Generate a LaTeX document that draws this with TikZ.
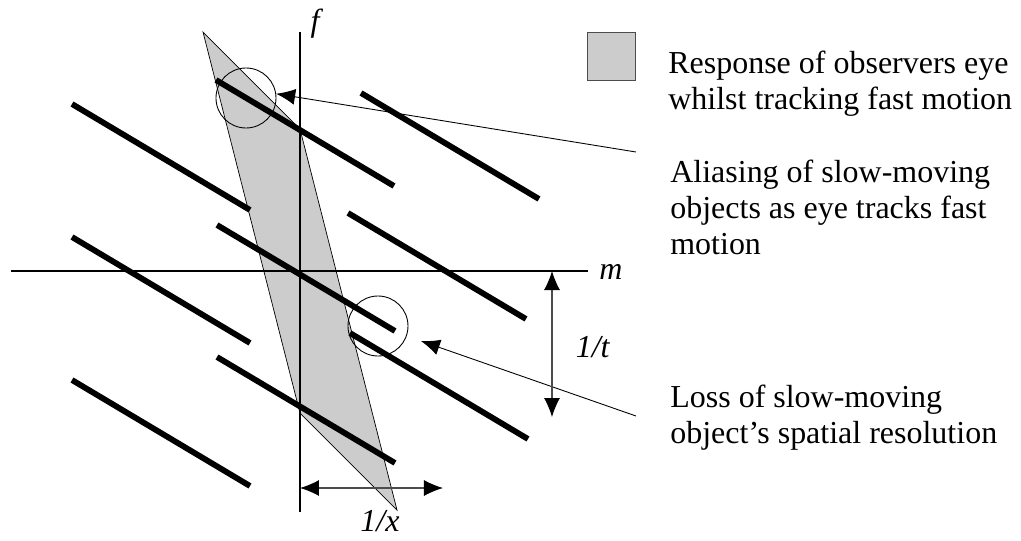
\documentclass[tikz,border=0pt]{standalone}
\usepackage{fontspec}
\setmainfont{Liberation Serif}
\usetikzlibrary{arrows.meta, positioning}

\begin{document}
\begin{tikzpicture}[
    x=0.2mm, y=0.2mm,
    font=\fontsize{18.2}{20.5}\selectfont,
    axis/.style={line width=0.7pt},
    band/.style={draw, line width=0.4pt, fill=gray!40},
    stripe/.style={line width=3.3pt},
    ring/.style={draw, circle, line width=0.5pt, minimum size=12mm, inner sep=0pt},
    pointer/.style={-{Latex[length=3.8mm, width=3.2mm]}, line width=0.5pt},
    span/.style={{Latex[length=3.8mm, width=3.2mm, color=black]}-{Latex[length=3.8mm, width=3.2mm, color=black]}, line width=0.6pt, draw=black!70},
    note/.style={align=left, anchor=north west, inner sep=0pt}
]
\useasboundingbox (-300,-269) rectangle (721,271);

\draw[band] (-97,239) -- (0,142) -- (97,-239) -- (0,-142) -- cycle;

\coordinate (ftop) at (0,239);
\coordinate (fbot) at (0,-241);
\coordinate (mleft) at (-289,0);
\coordinate (mright) at (288,0);
\draw[axis] (ftop) -- (fbot);
\draw[axis] (mleft) -- (mright);
\node (flab) at (17,247) {\textit{f}};
\node (mlab) at (311,-1) {\textit{m}};

\foreach \sx/\sy in {-228/167, -84/191, 61/178, -228/34, -83/46, 48/58, -228/-109, -83/-86, 50/-62}
    \draw[stripe] (\sx,\sy) -- ++(178,-106);

\node[ring] (eye) at (-54,173) {};
\node[ring] (blur) at (78,-55) {};

\node[draw=black!70, fill=gray!40, minimum size=9.6mm, inner sep=0pt] (key) at (311,215) {};
\node[note] (keytext) at (368,220) {Response of observers eye\\whilst tracking fast motion};
\node[note] (alias) at (370,111) {Aliasing of slow-moving\\objects as eye tracks fast\\motion};
\node[note] (loss) at (370,-114) {Loss of slow-moving\\object's spatial resolution};

\coordinate (eyetail) at (336,119);
\coordinate (blurtail) at (336,-145);
\draw[pointer] (eyetail) -- (eye.8);
\draw[pointer, shorten >=3mm] (blurtail) -- (blur);

\coordinate (ttop) at (252,0);
\coordinate (tbot) at (252,-146);
\draw[span] (ttop) -- (tbot);
\node (tlab) at (293,-76) {\textit{1/t}};

\coordinate (xleft) at (0,-217);
\coordinate (xright) at (143,-217);
\draw[span] (xleft) -- (xright);
\node (xlab) at (80,-250) {\textit{1/x}};
\end{tikzpicture}
\end{document}
